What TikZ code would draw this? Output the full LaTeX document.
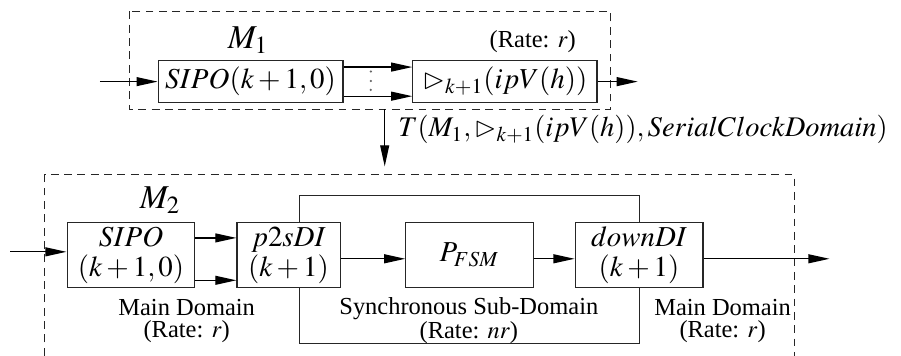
\documentclass[tikz,border=0pt]{standalone}
\usepackage{mathptmx}
\usepackage{amssymb}
\usepackage{fontspec}
\setmainfont{Liberation Serif}
\usetikzlibrary{arrows.meta}

\begin{document}
\begin{tikzpicture}[
    unit/.style={draw=black!85, line width=0.5pt, fill=white, align=center, inner sep=1pt, font=\fontsize{13}{13.5}\selectfont},
    flow/.style={-{Triangle[length=9.5pt,width=4pt]}, draw=black, line width=0.6pt},
    clockarea/.style={draw=black!85, line width=0.5pt, dash pattern=on 3.5pt off 2.5pt},
    subarea/.style={draw=black!85, line width=0.5pt},
    note/.style={align=center, font=\fontsize{11}{10}\selectfont},
    modname/.style={font=\fontsize{15}{15}\selectfont}
]
\useasboundingbox (0,0) rectangle (14.24,5.62);

% module M1
\draw[clockarea] (2.05,5.44) rectangle (9.65,3.89);
\node[modname] (mA) at (3.92,4.99) {$M_1$};
\node[note] (rateA) at (8.42,4.96) {(Rate: $r$)};
\node[unit, minimum width=2.92cm, minimum height=0.66cm] (sipoA) at (3.96,4.33) {$SIPO(k+1,0)$};
\node[unit, minimum width=2.91cm, minimum height=0.66cm] (serA) at (7.98,4.33) {$\rhd_{k+1}(ipV(h))$};
\foreach \y in {4.49,4.34,4.20}
  \fill[black!60] (5.86,\y) circle (0.55pt);
\coordinate (inA) at (1.58,4.33);
\coordinate (outA) at (10.08,4.33);
\draw[flow] (inA) -- (sipoA.west);
\draw[flow] (sipoA.east |- 0,4.56) -- (serA.west |- 0,4.56);
\draw[flow] (sipoA.east |- 0,4.10) -- (serA.west |- 0,4.10);
\draw[flow] (serA.east) -- (outA);

% transformation
\coordinate (tTop) at (6.08,3.89);
\coordinate (tBot) at (6.08,2.99);
\draw[flow] (tTop) -- (tBot);
\node[anchor=west, font=\fontsize{12.8}{13.5}\selectfont] (trans) at (6.17,3.57) {$T(M_1,\rhd_{k+1}(ipV(h)),SerialClockDomain)$};

% module M2
\draw[clockarea] (0.71,0) -- (0.71,2.86) -- (12.55,2.86) -- (12.55,0);
\node[modname] (mB) at (2.53,2.45) {$M_2$};
\draw[subarea] (4.74,2.53) rectangle (10.10,0.19);
\node[unit, minimum width=2.02cm, minimum height=1.03cm] (sipoB) at (2.07,1.59) {$SIPO$\\$(k+1,0)$};
\node[unit, minimum width=1.63cm, minimum height=1.03cm] (ptos) at (4.56,1.59) {$p2sDI$\\$(k+1)$};
\node[unit, minimum width=2.01cm, minimum height=1.03cm] (fsm) at (7.42,1.59) {$P_{FSM}$};
\node[unit, minimum width=2.02cm, minimum height=1.03cm] (down) at (10.10,1.59) {$downDI$\\$(k+1)$};
\coordinate (inB) at (0.16,1.64);
\coordinate (outB) at (13.11,1.53);
\draw[flow] (inB) -- (sipoB.west |- inB);
\draw[flow] (sipoB.east |- 0,1.86) -- (ptos.west |- 0,1.86);
\draw[flow] (sipoB.east |- 0,1.19) -- (ptos.west |- 0,1.19);
\draw[flow] (ptos.east |- 0,1.53) -- (fsm.west |- 0,1.53);
\draw[flow] (fsm.east |- 0,1.53) -- (down.west |- 0,1.53);
\draw[flow] (down.east |- outB) -- (outB);

\node[note] (mainL) at (2.95,0.55) {Main Domain\\(Rate: $r$)};
\node[note] (sync) at (7.41,0.55) {Synchronous Sub-Domain\\(Rate: $nr$)};
\node[note] (mainR) at (11.42,0.55) {Main Domain\\(Rate: $r$)};
\end{tikzpicture}
\end{document}
